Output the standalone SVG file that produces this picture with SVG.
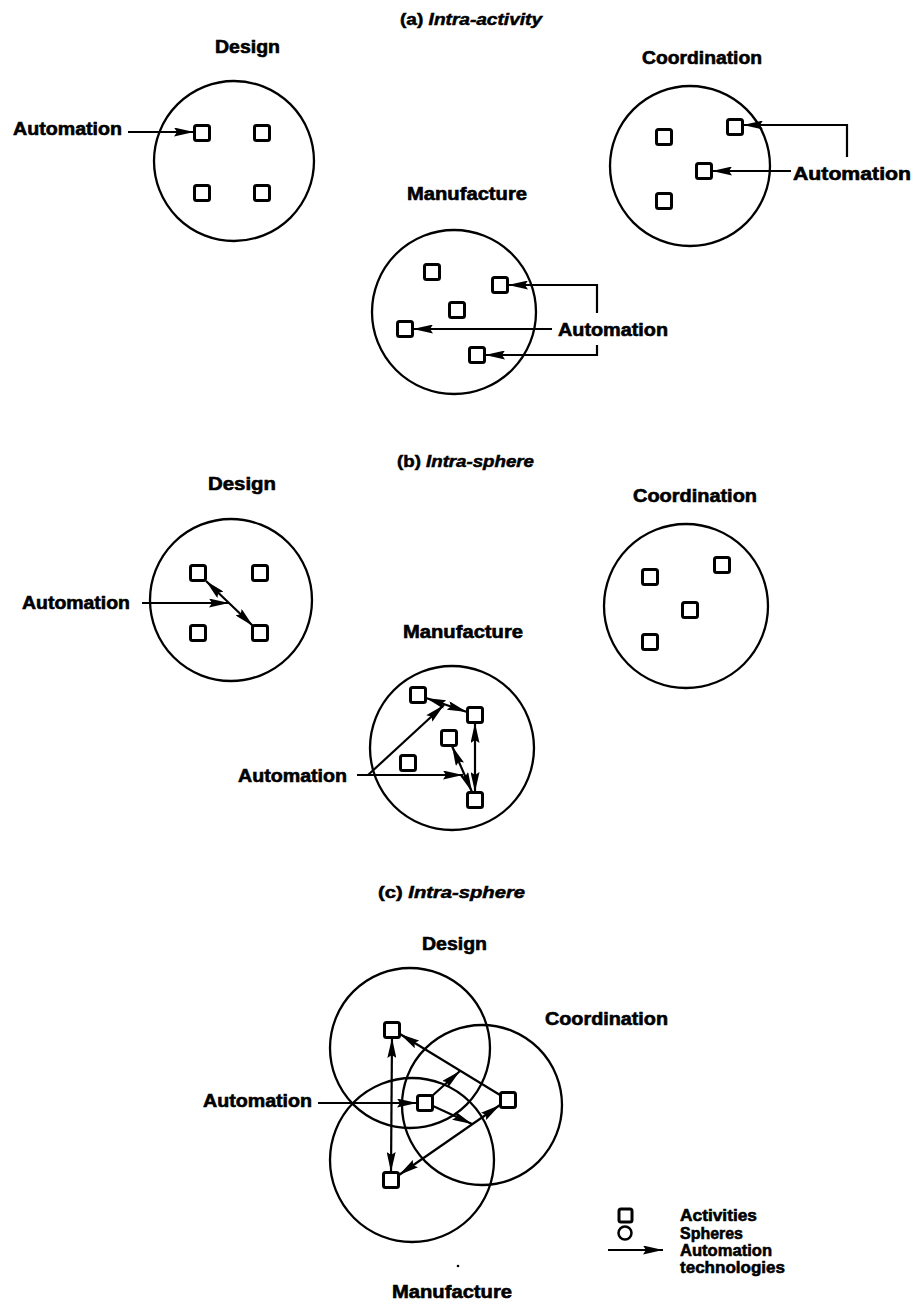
<svg xmlns="http://www.w3.org/2000/svg" width="915" height="1310" viewBox="0 0 915 1310">
  <style>
    .sphere { fill: none; stroke: #000; stroke-width: 2.3; }
    .act { fill: #fff; stroke: #000; stroke-width: 3; }
    .link { fill: none; stroke: #000; stroke-width: 2.2; }
    .lbl { font-family: "Liberation Sans", Arial, sans-serif; font-weight: bold; font-size: 18px; fill: #000; stroke: #000; stroke-width: 0.6; }
    .ttl { font-family: "Liberation Sans", Arial, sans-serif; font-weight: bold; font-size: 16px; fill: #000; stroke: #000; stroke-width: 0.5; }
    .leg { font-family: "Liberation Sans", Arial, sans-serif; font-weight: bold; font-size: 17px; fill: #000; stroke: #000; stroke-width: 0.6; }
    .it { font-style: italic; }
  </style>
  <defs>
    <marker id="ah" viewBox="0 0 20 9" refX="20" refY="4.5" markerWidth="20" markerHeight="9" markerUnits="userSpaceOnUse" orient="auto-start-reverse">
      <path d="M0,0 L20,4.5 L0,9 L3,4.5 Z" fill="#000"/>
    </marker>
  </defs>
  <rect width="915" height="1310" fill="#fff"/>

  <!-- (a) intra-activity -->
  <text class="ttl" x="400" y="25" textLength="142" lengthAdjust="spacingAndGlyphs">(a) <tspan class="it">Intra-activity</tspan></text>

  <g id="a-design">
    <text class="lbl" x="215" y="53" textLength="65" lengthAdjust="spacingAndGlyphs">Design</text>
    <circle class="sphere" cx="234" cy="161" r="80"/>
    <rect class="act" x="194.5" y="125.5" width="15" height="15" rx="2"/>
    <rect class="act" x="254.5" y="125.5" width="15" height="15" rx="2"/>
    <rect class="act" x="194.5" y="185.5" width="15" height="15" rx="2"/>
    <rect class="act" x="254.5" y="185.5" width="15" height="15" rx="2"/>
  </g>
  <g id="a-coordination">
    <text class="lbl" x="642" y="64" textLength="120" lengthAdjust="spacingAndGlyphs">Coordination</text>
    <circle class="sphere" cx="690" cy="166" r="80"/>
    <rect class="act" x="727.5" y="119.5" width="15" height="15" rx="2"/>
    <rect class="act" x="656.5" y="129.5" width="15" height="15" rx="2"/>
    <rect class="act" x="696.5" y="163.5" width="15" height="15" rx="2"/>
    <rect class="act" x="656.5" y="193.5" width="15" height="15" rx="2"/>
  </g>
  <g id="a-manufacture">
    <text class="lbl" x="407" y="200" textLength="120" lengthAdjust="spacingAndGlyphs">Manufacture</text>
    <circle class="sphere" cx="454" cy="312" r="82"/>
    <rect class="act" x="424.5" y="264.5" width="15" height="15" rx="2"/>
    <rect class="act" x="492.5" y="277.5" width="15" height="15" rx="2"/>
    <rect class="act" x="449.5" y="302.5" width="15" height="15" rx="2"/>
    <rect class="act" x="397.5" y="321.5" width="15" height="15" rx="2"/>
    <rect class="act" x="469.5" y="347.5" width="15" height="15" rx="2"/>
  </g>
  <g id="a-automation">
    <text class="lbl" x="13" y="135" textLength="109" lengthAdjust="spacingAndGlyphs">Automation</text>
    <text class="lbl" x="793" y="180" textLength="118" lengthAdjust="spacingAndGlyphs">Automation</text>
    <text class="lbl" x="558" y="336" textLength="110" lengthAdjust="spacingAndGlyphs">Automation</text>
  </g>
  <g id="a-connectors">
    <line class="link" x1="128" y1="132" x2="194" y2="132" marker-end="url(#ah)"/>
    <polyline class="link" points="847,157 847,125 743,125" marker-end="url(#ah)"/>
    <line class="link" x1="791" y1="171" x2="712" y2="171" marker-end="url(#ah)"/>
    <polyline class="link" points="597,313 597,285 508,285" marker-end="url(#ah)"/>
    <line class="link" x1="552" y1="329" x2="413" y2="329" marker-end="url(#ah)"/>
    <polyline class="link" points="597,345 597,355 485,355" marker-end="url(#ah)"/>
  </g>

  <!-- (b) intra-sphere -->
  <text class="ttl" x="397" y="467" textLength="137" lengthAdjust="spacingAndGlyphs">(b) <tspan class="it">Intra-sphere</tspan></text>

  <g id="b-design">
    <text class="lbl" x="208" y="490" textLength="68" lengthAdjust="spacingAndGlyphs">Design</text>
    <circle class="sphere" cx="231" cy="600" r="81"/>
    <rect class="act" x="190.5" y="565.5" width="15" height="15" rx="2"/>
    <rect class="act" x="252.5" y="565.5" width="15" height="15" rx="2"/>
    <rect class="act" x="190.5" y="625.5" width="15" height="15" rx="2"/>
    <rect class="act" x="252.5" y="625.5" width="15" height="15" rx="2"/>
  </g>
  <g id="b-coordination">
    <text class="lbl" x="633" y="502" textLength="124" lengthAdjust="spacingAndGlyphs">Coordination</text>
    <circle class="sphere" cx="686" cy="606" r="82"/>
    <rect class="act" x="714.5" y="557.5" width="15" height="15" rx="2"/>
    <rect class="act" x="642.5" y="569.5" width="15" height="15" rx="2"/>
    <rect class="act" x="682.5" y="602.5" width="15" height="15" rx="2"/>
    <rect class="act" x="642.5" y="634.5" width="15" height="15" rx="2"/>
  </g>
  <g id="b-manufacture">
    <text class="lbl" x="403" y="638" textLength="120" lengthAdjust="spacingAndGlyphs">Manufacture</text>
    <circle class="sphere" cx="452" cy="748" r="82"/>
    <rect class="act" x="410.5" y="687.5" width="15" height="15" rx="2"/>
    <rect class="act" x="467.5" y="707.5" width="15" height="15" rx="2"/>
    <rect class="act" x="441.5" y="730.5" width="15" height="15" rx="2"/>
    <rect class="act" x="400.5" y="755.5" width="15" height="15" rx="2"/>
    <rect class="act" x="467.5" y="792.5" width="15" height="15" rx="2"/>
  </g>
  <g id="b-automation">
    <text class="lbl" x="22" y="609" textLength="108" lengthAdjust="spacingAndGlyphs">Automation</text>
    <text class="lbl" x="238" y="782" textLength="109" lengthAdjust="spacingAndGlyphs">Automation</text>
  </g>
  <g id="b-connectors">
    <line class="link" x1="206" y1="581" x2="253" y2="626" marker-start="url(#ah)" marker-end="url(#ah)"/>
    <line class="link" x1="142" y1="603" x2="229" y2="603" marker-end="url(#ah)"/>
    <line class="link" x1="426" y1="698" x2="467" y2="712" marker-start="url(#ah)" marker-end="url(#ah)"/>
    <line class="link" x1="475" y1="723" x2="475" y2="792" marker-start="url(#ah)" marker-end="url(#ah)"/>
    <line class="link" x1="452" y1="746" x2="472" y2="792" marker-start="url(#ah)" marker-end="url(#ah)"/>
    <line class="link" x1="357" y1="775" x2="463" y2="775" marker-end="url(#ah)"/>
    <line class="link" x1="368" y1="775" x2="444" y2="705" marker-end="url(#ah)"/>
  </g>

  <!-- (c) overlapping spheres -->
  <text class="ttl" x="378" y="898" textLength="147" lengthAdjust="spacingAndGlyphs">(c) <tspan class="it">Intra-sphere</tspan></text>

  <g id="c-spheres">
    <circle class="sphere" cx="410" cy="1048" r="80"/>
    <circle class="sphere" cx="482" cy="1105" r="80"/>
    <circle class="sphere" cx="412" cy="1160" r="82"/>
  </g>
  <g id="c-labels">
    <text class="lbl" x="422" y="950" textLength="65" lengthAdjust="spacingAndGlyphs">Design</text>
    <text class="lbl" x="545" y="1025" textLength="123" lengthAdjust="spacingAndGlyphs">Coordination</text>
    <text class="lbl" x="392" y="1298" textLength="120" lengthAdjust="spacingAndGlyphs">Manufacture</text>
    <text class="lbl" x="203" y="1107" textLength="109" lengthAdjust="spacingAndGlyphs">Automation</text>
  </g>
  <g id="c-connectors">
    <line class="link" x1="318" y1="1103" x2="417" y2="1103" marker-end="url(#ah)"/>
    <line class="link" x1="392" y1="1038" x2="391" y2="1172" marker-start="url(#ah)" marker-end="url(#ah)"/>
    <line class="link" x1="500" y1="1095" x2="400" y2="1034" marker-end="url(#ah)"/>
    <line class="link" x1="500" y1="1105" x2="399" y2="1175" marker-start="url(#ah)" marker-end="url(#ah)"/>
    <line class="link" x1="432" y1="1096" x2="460" y2="1071" marker-end="url(#ah)"/>
    <line class="link" x1="433" y1="1106" x2="472" y2="1124" marker-end="url(#ah)"/>
  </g>
  <g id="c-activities">
    <rect class="act" x="384.5" y="1022.5" width="15" height="15" rx="2"/>
    <rect class="act" x="417.5" y="1095.5" width="15" height="15" rx="2"/>
    <rect class="act" x="500.5" y="1092.5" width="15" height="15" rx="2"/>
    <rect class="act" x="383.5" y="1172.5" width="15" height="15" rx="2"/>
  </g>
  <circle cx="458" cy="1266" r="1.3" fill="#000"/>

  <!-- key -->
  <g id="legend">
    <rect class="act" x="619" y="1209" width="13" height="13" rx="2"/>
    <circle cx="625" cy="1233" r="6.5" fill="none" stroke="#000" stroke-width="2.5"/>
    <line class="link" x1="608" y1="1250" x2="663" y2="1250" marker-end="url(#ah)"/>
    <text class="leg" x="680" y="1221" textLength="77" lengthAdjust="spacingAndGlyphs">Activities</text>
    <text class="leg" x="680" y="1239" textLength="63" lengthAdjust="spacingAndGlyphs">Spheres</text>
    <text class="leg" x="680" y="1256" textLength="92" lengthAdjust="spacingAndGlyphs">Automation</text>
    <text class="leg" x="680" y="1273" textLength="105" lengthAdjust="spacingAndGlyphs">technologies</text>
  </g>
</svg>
